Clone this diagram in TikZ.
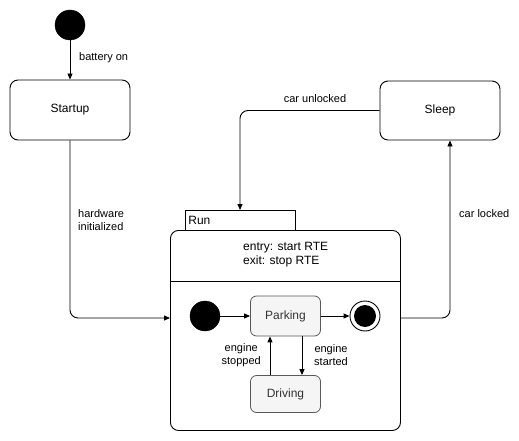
\documentclass[tikz,border=0pt]{standalone}
\usepackage{fontspec}
\setmainfont{Liberation Sans}
\usetikzlibrary{arrows.meta}
\begin{document}
\begin{tikzpicture}[x=1pt,y=-1pt,
  every node/.style={inner sep=0pt},
  state/.style={draw,line width=0.9pt,rounded corners=8pt,font=\fontsize{12}{14}\selectfont},
  sub/.style={draw=black!65,fill=black!4,line width=0.8pt,rounded corners=6pt,text=black!80,font=\fontsize{12}{14}\selectfont},
  lbl/.style={font=\fontsize{11}{13}\selectfont,align=center},
  tr/.style={line width=0.9pt,-{Triangle[length=6pt,width=5pt]},rounded corners=8pt},
  dot/.style={circle,fill=black,draw=black,minimum size=30pt}]
\useasboundingbox (0,0) rectangle (519,441);
% top initial state
\node[dot] (init) at (70,25) {};
\node[state,minimum width=120pt,minimum height=60pt] (startup) at (70,110) {Startup};
\node[state,minimum width=120pt,minimum height=59pt] (sleep) at (440,110.5) {Sleep};
% Run composite
\node[draw,line width=0.8pt,minimum width=110pt,minimum height=20pt,anchor=north west,text width=104pt,align=left,font=\fontsize{12}{14}\selectfont] (tab) at (185,210) {Run};
\node[draw,line width=0.9pt,rounded corners=8pt,minimum width=230pt,minimum height=200pt,anchor=north west] (run) at (170,230) {};
\coordinate (divl) at (170,281);
\coordinate (divr) at (400,281);
\draw[line width=0.8pt] (divl) -- (divr);
\node[lbl,align=left,anchor=north west,font=\fontsize{12}{14.5}\selectfont] (act) at (243,242) {entry: start RTE\\exit: stop RTE};
% inner states
\node[dot] (iinit) at (205,316) {};
\node[sub,minimum width=70pt,minimum height=40pt] (parking) at (285.5,316) {Parking};
\node[sub,minimum width=70pt,minimum height=37pt] (driving) at (285.5,394) {Driving};
\node[circle,draw,line width=0.9pt,minimum size=30pt] (final) at (365,316) {};
\node[circle,fill=black,minimum size=22pt] (finalin) at (365,316) {};
% transitions
\draw[tr] (init) -- (startup);
\node[lbl,anchor=west] (l1) at (79,58) {battery on};
\draw[tr] (startup.south) |- (170,318);
\node[lbl,anchor=west,align=left] (l2) at (78,220) {hardware\\initialized};
\draw[tr] (sleep.west) -| (240,210);
\node[lbl] (l3) at (315,99) {car unlocked};
\draw[tr] (400,318) -| (sleep.south -| 450,0);
\node[lbl,anchor=west] (l4) at (459,214) {car locked};
\draw[tr] (iinit) -- (parking);
\draw[tr] (parking) -- (final);
\draw[tr] (parking.south -| 302,0) -- (driving.north -| 302,0);
\draw[tr] (driving.north -| 270,0) -- (parking.south -| 270,0);
\node[lbl,anchor=west] (l5) at (314,355) {engine\\started};
\node[lbl,anchor=east] (l6) at (261,355) {engine\\stopped};
\end{tikzpicture}
\end{document}
